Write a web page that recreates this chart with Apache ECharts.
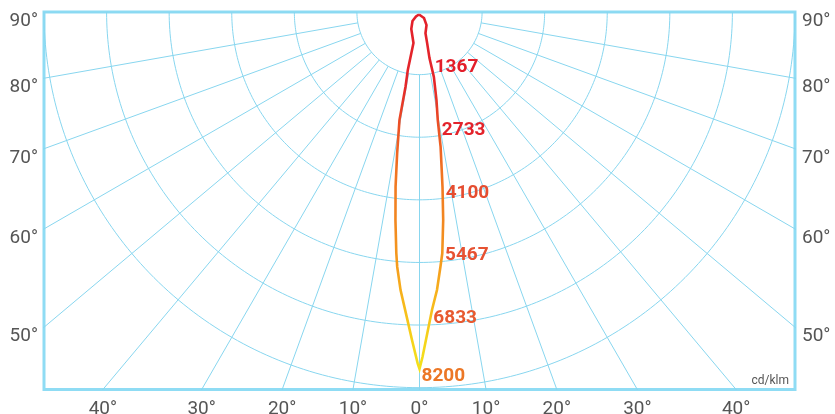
<!DOCTYPE html>
<html><head><meta charset="utf-8">
<script src="https://cdn.jsdelivr.net/npm/echarts@6/dist/echarts.min.js"></script>
<style>html,body{margin:0;padding:0;background:#fff}#c{width:835px;height:414px}</style>
</head><body><div id="c"></div>
<script>
// ---- data (cd/klm, angles in degrees from nadir) ----
const ringValues = [1367, 2733, 4100, 5467, 6833, 8200];
const rayAngles = [-90, -80, -70, -60, -50, -40, -30, -20, -10, 0, 10, 20, 30, 40, 50, 60, 70, 80, 90];
const bottomTickAngles = [-40, -30, -20, -10, 0, 10, 20, 30, 40];
const sideTickAngles = [50, 60, 70, 80, 90];
// right half of the curve (C0), traced from the beam tip up to the lamp
const rightAngles    = [0, 0.5, 1.4, 2.4, 3.6, 4.7, 5.4, 6.5, 7.5, 8.9, 9.6, 10.9, 12.5, 12.2, 13.8, 15.7, 28.3, 36.9];
const rightIntensity = [7790, 7530, 7010, 6510, 6080, 5580, 5290, 4570, 3850, 2980, 2390, 1960, 1450, 1030, 700, 483, 323, 164];
// left half of the curve (C180), traced from the beam tip up to the lamp
const leftAngles    = [-0.3, -1.3, -2.4, -3.9, -5, -5.5, -6.6, -7.8, -9, -10.5, -10.6, -11.4, -11, -25.8, -37.9, -38];
const leftIntensity = [7670, 7165, 6660, 6085, 5585, 5285, 4570, 3850, 3120, 2400, 1660, 1290, 690, 412, 249, 124];
const apexAngle = -11, apexIntensity = 56;
const unitText = 'cd/klm';

// ---- helpers ----
const HALF_W = 8200, DEPTH = 8240;
const PX_PER_CD = 751 / (2 * HALF_W);
const rad = a => a * Math.PI / 180;
const toXY = (a, r) => [r * Math.sin(rad(a)), -r * Math.cos(rad(a))];

const rightPts = rightAngles.map((a, i) => toXY(a, rightIntensity[i]));
const leftPts = leftAngles.map((a, i) => toXY(a, leftIntensity[i]));
const apex = toXY(apexAngle, apexIntensity);
const curve = [apex].concat(leftPts.slice().reverse(), rightPts, [apex]);

function rightXAtDepth(d) {
  const pts = rightPts; // ordered tip -> apex, depth decreasing
  if (d >= -pts[0][1]) return pts[0][0];
  for (let i = 0; i < pts.length - 1; i++) {
    const d0 = -pts[i][1], d1 = -pts[i + 1][1];
    if (d <= d0 && d >= d1) {
      const t = (d0 - d) / (d0 - d1);
      return pts[i][0] + t * (pts[i + 1][0] - pts[i][0]);
    }
  }
  return pts[pts.length - 1][0];
}
const tipDepth = -rightPts[0][1];

const gridColor = '#88d6ef';
const series = [];
ringValues.forEach(r => {
  const d = [];
  for (let a = -90; a <= 90; a += 1) d.push(toXY(a, r));
  series.push({ type: 'line', data: d, symbol: 'none', silent: true, clip: true, z: 1,
    lineStyle: { color: gridColor, width: 1 } });
});
rayAngles.forEach(a => {
  series.push({ type: 'line', data: [toXY(a, ringValues[0]), toXY(a, 30000)], symbol: 'none', silent: true, clip: true, z: 1,
    lineStyle: { color: gridColor, width: 1 } });
});
series.push({
  type: 'line', data: curve, symbol: 'none', silent: true, clip: false, z: 5,
  lineStyle: { width: 2.6, join: 'miter',
    color: new echarts.graphic.LinearGradient(0, 0, 0, 1, [
      { offset: 0, color: '#e3202b' }, { offset: 0.2, color: '#e4262a' },
      { offset: 0.32, color: '#ec5225' }, { offset: 0.44, color: '#f07423' },
      { offset: 0.6, color: '#f28a20' }, { offset: 0.72, color: '#f5a01d' },
      { offset: 0.82, color: '#f7bb1b' }, { offset: 0.92, color: '#f5d51a' },
      { offset: 1, color: '#f3e21b' }]) }
});
const ringLabelColors = ['#e31e2a', '#e3232b', '#e54d30', '#e65232', '#e85a30', '#ec7726'];
const LABEL_LIFT = 7 / PX_PER_CD;
series.push({
  type: 'scatter', symbolSize: 0, silent: true, z: 6, clip: false,
  itemStyle: { opacity: 1 },
  data: ringValues.map((r, i) => {
    const last = r > tipDepth;
    const d = Math.min(r, tipDepth);
    return { value: [rightXAtDepth(last ? d : d - LABEL_LIFT), -d],
      label: { show: true, position: 'right', distance: last ? 2 : 3,
        offset: last ? [0, 7] : [0, -7], color: ringLabelColors[i],
        formatter: String(r) } };
  }),
  label: { fontFamily: 'Roboto', fontWeight: 'bold', fontSize: 19, opacity: 1 }
});

const sideValues = sideTickAngles.map(a => a === 90 ? 0 : -HALF_W / Math.tan(rad(a)));
const sideFmt = v => (v === 0 ? 90 : Math.round(Math.atan(HALF_W / Math.abs(v)) * 180 / Math.PI)) + '°';
const sideLabel = (m) => ({ customValues: sideValues, formatter: sideFmt, color: '#555',
  fontFamily: 'Roboto', fontSize: 19, margin: m, verticalAlign: 'top', lineHeight: 19 });

const option = {
  animation: false,
  grid: { left: 44, right: 40, top: 12, bottom: 24.5, show: true, borderColor: '#8fdcf4', borderWidth: 3,
    backgroundColor: 'transparent', containLabel: false, outerBoundsMode: 'none' },
  xAxis: { type: 'value', min: -HALF_W, max: HALF_W, splitLine: { show: false }, axisLine: { show: false }, axisTick: { show: false },
    axisLabel: { customValues: bottomTickAngles.map(a => DEPTH * Math.tan(rad(a))),
      formatter: v => Math.round(Math.atan(Math.abs(v) / DEPTH) * 180 / Math.PI) + '°',
      color: '#555', fontFamily: 'Roboto', fontSize: 19, margin: 10 } },
  yAxis: [
    { type: 'value', min: -DEPTH, max: 0, position: 'left', splitLine: { show: false }, axisLine: { show: false }, axisTick: { show: false }, axisLabel: sideLabel(6) },
    { type: 'value', min: -DEPTH, max: 0, position: 'right', splitLine: { show: false }, axisLine: { show: false }, axisTick: { show: false }, axisLabel: sideLabel(7) }
  ],
  graphic: [{ type: 'text', right: 46, bottom: 27, silent: true,
    style: { text: unitText, fontFamily: 'Roboto', fontSize: 12, fill: '#555' } }],
  series: series
};
const chart = echarts.init(document.getElementById('c'), null, { renderer: 'canvas' });
chart.setOption(option);
</script></body></html>
